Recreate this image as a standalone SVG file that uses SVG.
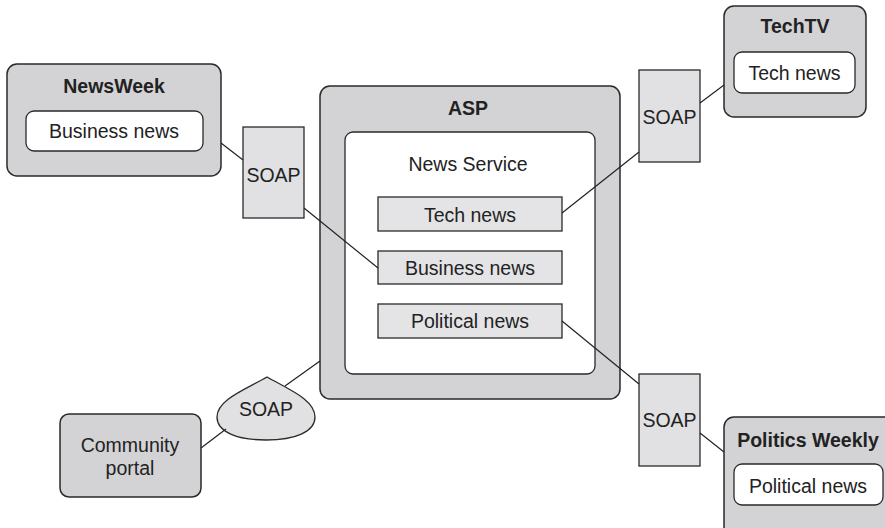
<svg xmlns="http://www.w3.org/2000/svg" width="885" height="528" viewBox="0 0 885 528">
<style>
.outer{fill:#d3d3d5;stroke:#2a2a2a;stroke-width:1.5}
.white{fill:#ffffff;stroke:#2a2a2a;stroke-width:1.3}
.soap{fill:#e1e1e3;stroke:#2a2a2a;stroke-width:1.3}
.item{fill:#e4e4e6;stroke:#2a2a2a;stroke-width:1.3}
.conn line{stroke:#222;stroke-width:1.2}
text{font-family:"Liberation Sans",Arial,sans-serif;font-size:19.5px;fill:#222;text-anchor:middle}
.b{font-weight:bold}
</style>
<rect width="885" height="528" fill="#ffffff"/>
<g id="newsweek">
<rect class="outer" x="7" y="64" width="214" height="112" rx="10"/>
<text class="b" x="114" y="93">NewsWeek</text>
<rect class="white" x="26" y="111" width="177" height="40" rx="8"/>
<text x="114" y="138">Business news</text>
</g>
<g id="soap-left">
<rect class="soap" x="243" y="127" width="61" height="91"/>
<text x="273.5" y="182">SOAP</text>
</g>
<g id="asp">
<rect class="outer" x="320" y="86" width="300" height="313" rx="10"/>
<text class="b" x="468" y="115">ASP</text>
</g>
<g id="news-service">
<rect class="white" x="345" y="132" width="250" height="242" rx="8"/>
<text x="468" y="171">News Service</text>
</g>
<g id="asp-tech">
<rect class="item" x="378" y="197" width="184" height="34"/>
<text x="470" y="222">Tech news</text>
</g>
<g id="asp-business">
<rect class="item" x="378" y="251" width="184" height="33"/>
<text x="470" y="275">Business news</text>
</g>
<g id="asp-political">
<rect class="item" x="378" y="304" width="184" height="34"/>
<text x="470" y="328">Political news</text>
</g>
<g id="soap-techtv">
<rect class="soap" x="639" y="70" width="61" height="92"/>
<text x="669.5" y="124">SOAP</text>
</g>
<g id="techtv">
<rect class="outer" x="724" y="6" width="142" height="111" rx="10"/>
<text class="b" x="795" y="33">TechTV</text>
<rect class="white" x="734" y="52" width="121" height="41" rx="8"/>
<text x="794.5" y="80">Tech news</text>
</g>
<g id="soap-politics">
<rect class="soap" x="639" y="374" width="61" height="92"/>
<text x="669.5" y="427">SOAP</text>
</g>
<g id="politics-weekly">
<rect class="outer" x="724" y="417" width="175" height="125" rx="10"/>
<text class="b" x="808" y="447">Politics Weekly</text>
<rect class="white" x="734" y="464" width="149" height="41" rx="8"/>
<text x="808" y="493">Political news</text>
</g>
<g id="soap-community">
<path class="soap" d="M267,377 C290,390 315,400 315,417 C315,432 295,440 266,440 C237,440 217,432 217,417 C217,400 244,390 267,377 Z"/>
<text x="266" y="416">SOAP</text>
</g>
<g id="community-portal">
<rect class="outer" x="60" y="414" width="141" height="83" rx="9"/>
<text x="130" y="452">Community</text>
<text x="130" y="475">portal</text>
</g>
<g id="connectors" class="conn">
<line x1="221" y1="143" x2="243" y2="160"/>
<line x1="304" y1="208" x2="378" y2="268"/>
<line x1="562" y1="213" x2="639" y2="152"/>
<line x1="700" y1="103" x2="724" y2="85"/>
<line x1="562" y1="321" x2="639" y2="384"/>
<line x1="700" y1="433" x2="724" y2="452"/>
<line x1="201" y1="448" x2="226" y2="429"/>
<line x1="285" y1="386" x2="320" y2="361"/>
</g>
</svg>
